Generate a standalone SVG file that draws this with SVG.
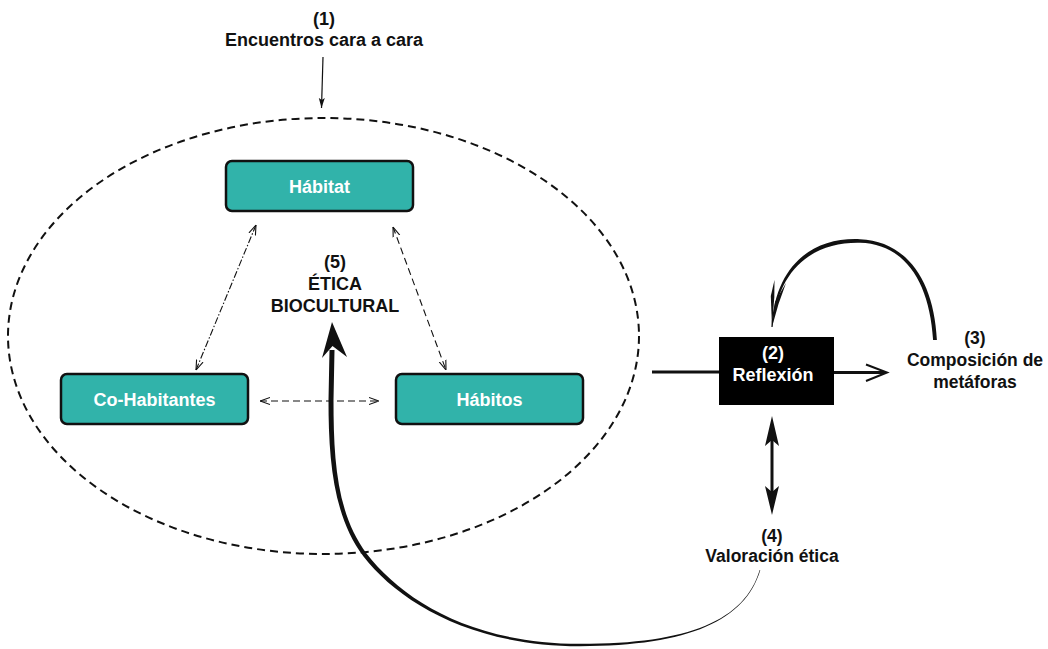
<svg xmlns="http://www.w3.org/2000/svg" width="1048" height="649" viewBox="0 0 1048 649">
  <defs>
    <style>
      .lbl { font-family: "Liberation Sans", Arial, Helvetica, sans-serif; font-weight: bold; font-size: 18px; fill: #111; text-anchor: middle; }
      .sm { font-size: 17.5px; }
      .boxt { font-family: "Liberation Sans", Arial, Helvetica, sans-serif; font-weight: bold; font-size: 18px; fill: #ffffff; text-anchor: middle; }
      .box { fill: #31b3aa; stroke: #111; stroke-width: 2.5; }
      .thin { fill: none; stroke: #111; stroke-width: 1.1; }
    </style>
    <marker id="open" viewBox="0 0 10 10" refX="10" refY="5" markerWidth="10" markerHeight="10" markerUnits="userSpaceOnUse" orient="auto-start-reverse">
      <path d="M0,1.5 L10,5 L0,8.5" fill="none" stroke="#111" stroke-width="1.1"/>
    </marker>
    <marker id="small" viewBox="0 0 10 10" refX="10" refY="5" markerWidth="10" markerHeight="10" markerUnits="userSpaceOnUse" orient="auto">
      <path d="M0,2 L10,5 L0,8 L2,5 Z" fill="#111"/>
    </marker>
  </defs>

  <!-- enclosing dashed ellipse -->
  <ellipse id="enclosure" cx="323.5" cy="336" rx="315.5" ry="218" fill="none" stroke="#111" stroke-width="2" stroke-dasharray="8,5"/>

  <g id="connectors">
    <!-- (1) to ellipse -->
    <line x1="323" y1="57" x2="321.5" y2="108" stroke="#111" stroke-width="1.2" marker-end="url(#small)"/>
    <!-- Hábitat <-> Co-Habitantes -->
    <line x1="256" y1="225" x2="196" y2="370" class="thin" stroke-dasharray="7,2,1.5,2" marker-start="url(#open)" marker-end="url(#open)"/>
    <!-- Hábitat <-> Hábitos -->
    <line x1="393" y1="227" x2="446" y2="370" class="thin" stroke-dasharray="7,4" marker-start="url(#open)" marker-end="url(#open)"/>
    <!-- Co-Habitantes <-> Hábitos -->
    <line x1="260" y1="401" x2="379" y2="401" class="thin" stroke-dasharray="7,4" marker-start="url(#open)" marker-end="url(#open)"/>
    <!-- ellipse -> Reflexión -->
    <line x1="652" y1="372" x2="720" y2="372" stroke="#111" stroke-width="3"/>
    <!-- Reflexión -> Composición -->
    <line x1="833" y1="372.5" x2="885" y2="372.5" stroke="#111" stroke-width="3"/>
    <path d="M866,364.5 L887,372.5 L866,381" fill="none" stroke="#111" stroke-width="2" stroke-linejoin="miter"/>
    <!-- Reflexión <-> Valoración -->
    <line x1="772" y1="440" x2="772" y2="492" stroke="#111" stroke-width="3"/>
    <path d="M772,416 L779,446 L772,440 L765,446 Z" fill="#111"/>
    <path d="M772,515 L779,486 L772,492 L765,486 Z" fill="#111"/>
    <!-- Composición -> Reflexión (curved, tapered) -->
    <path d="M936.9,340 C934,280 906.5,241.2 860,239.2 C813,237.2 775.8,264 771.4,327 L772.6,327 C778,266 816,241.8 860,242.8 C904,243.8 929.6,281 933.1,340 Z" fill="#111"/>
    <path d="M772,327 L770.8,296 L774.5,280 L774.3,297 Z" fill="#111"/>
    <path d="M772,327 L775,302 L786,283 L778.5,304 Z" fill="#111"/>
    <!-- Valoración -> Ética biocultural (big tapered curve) -->
    <path d="M760.3,570.1 C745.3,620.2 690,646.2 580,646.2 C470,646.2 398.3,601.3 363.3,556.3 C333.3,516.3 328.5,460 328.5,400 L329.5,350 L334.5,350 L333.5,400 C333.5,460 336.7,513.7 366.7,553.7 C401.7,598.7 470,643.8 580,643.8 C690,643.8 744.7,619.9 759.7,569.9 Z" fill="#111"/>
    <path d="M332,322 L347,357 L332.5,346 L322,358 Z" fill="#111"/>
  </g>

  <g id="n1">
    <text class="lbl" x="324" y="25">(1)</text>
    <text class="lbl" x="324" y="46">Encuentros cara a cara</text>
  </g>

  <g id="habitat">
    <rect class="box" x="226" y="161" width="187" height="50" rx="6"/>
    <text class="boxt" x="319.5" y="192.5">Hábitat</text>
  </g>

  <g id="cohabitantes">
    <rect class="box" x="61" y="374" width="187" height="50" rx="6"/>
    <text class="boxt" x="154.5" y="405.5">Co-Habitantes</text>
  </g>

  <g id="habitos">
    <rect class="box" x="396" y="374" width="187" height="50" rx="6"/>
    <text class="boxt" x="489.5" y="405.5">Hábitos</text>
  </g>

  <g id="n5">
    <text class="lbl" x="335" y="268">(5)</text>
    <text class="lbl" x="335" y="290">ÉTICA</text>
    <text class="lbl" x="335" y="312">BIOCULTURAL</text>
  </g>

  <g id="n2">
    <rect x="719" y="337" width="115" height="68" fill="#000"/>
    <text class="boxt" x="773" y="359">(2)</text>
    <text class="boxt" x="773" y="381">Reflexión</text>
  </g>

  <g id="n3">
    <text class="lbl sm" x="975" y="344">(3)</text>
    <text class="lbl sm" x="975" y="366">Composición de</text>
    <text class="lbl sm" x="975" y="388">metáforas</text>
  </g>

  <g id="n4">
    <text class="lbl sm" x="772" y="542">(4)</text>
    <text class="lbl sm" x="772" y="562">Valoración ética</text>
  </g>
</svg>
